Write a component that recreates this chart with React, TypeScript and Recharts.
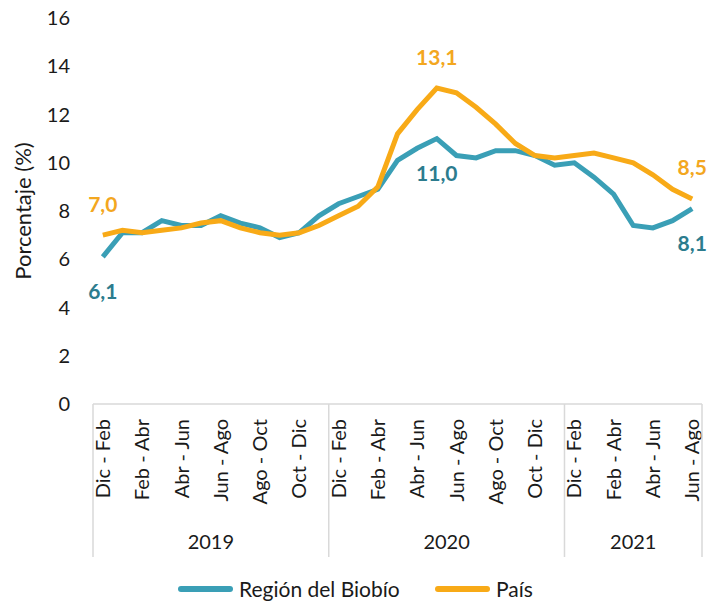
import React from 'react';
import { LineChart, Line, XAxis, YAxis } from 'recharts';

const periods = [
  'Dic - Feb', 'Ene - Mar', 'Feb - Abr', 'Mar - May', 'Abr - Jun', 'May - Jul',
  'Jun - Ago', 'Jul - Sep', 'Ago - Oct', 'Sep - Nov', 'Oct - Dic', 'Nov - Ene',
  'Dic - Feb', 'Ene - Mar', 'Feb - Abr', 'Mar - May', 'Abr - Jun', 'May - Jul',
  'Jun - Ago', 'Jul - Sep', 'Ago - Oct', 'Sep - Nov', 'Oct - Dic', 'Nov - Ene',
  'Dic - Feb', 'Ene - Mar', 'Feb - Abr', 'Mar - May', 'Abr - Jun', 'May - Jul',
  'Jun - Ago',
];

const years = ['2019', '2020', '2021'];
const yearSizes = [12, 12, 7];

const biobio = [
  6.1, 7.1, 7.1, 7.6, 7.4, 7.4, 7.8, 7.5, 7.3, 6.9, 7.1, 7.8,
  8.3, 8.6, 8.9, 10.1, 10.6, 11.0, 10.3, 10.2, 10.5, 10.5, 10.3, 9.9,
  10.0, 9.4, 8.7, 7.4, 7.3, 7.6, 8.1,
];

const pais = [
  7.0, 7.2, 7.1, 7.2, 7.3, 7.5, 7.6, 7.3, 7.1, 7.0, 7.1, 7.4,
  7.8, 8.2, 9.0, 11.2, 12.2, 13.1, 12.9, 12.3, 11.6, 10.8, 10.3, 10.2,
  10.3, 10.4, 10.2, 10.0, 9.5, 8.9, 8.5,
];

const labelledPoints = [0, 17, 30];
const yTicks = [0, 2, 4, 6, 8, 10, 12, 14, 16];

const data = periods.map((p, i) => ({ period: p, biobio: biobio[i], pais: pais[i] }));

const W = 716;
const H = 604;
const PLOT_LEFT = 93;
const PLOT_RIGHT = 702;
const PLOT_TOP = 18;
const PLOT_BOTTOM = 404;
const BW = (PLOT_RIGHT - PLOT_LEFT) / periods.length;

const FONT = 'Lato, "Open Sans", sans-serif';
const BLUE = '#3a9fb6';
const BLUE_TEXT = '#2c7c8e';
const ORANGE = '#f8aa17';
const ORANGE_TEXT = '#f3a71f';
const GRID = '#d9d9d9';
const TEXT = '#1a1a1a';

// index where each year group starts
const groupStarts: number[] = [];
yearSizes.reduce((acc, n) => {
  groupStarts.push(acc);
  return acc + n;
}, 0);

const fmt = (v: number) => v.toFixed(1).replace('.', ',');

const XTick = (props: any) => {
  const { x, y, index } = props;
  const out: React.ReactNode[] = [];
  if (index % 2 === 0) {
    out.push(
      <text
        key="t"
        x={x}
        y={y + 15}
        dy="0.36em"
        transform={`rotate(-90 ${x} ${y + 15})`}
        textAnchor="end"
        fontFamily={FONT}
        fontSize={20}
        fill={TEXT}
      >
        {periods[index]}
      </text>
    );
  }
  const g = groupStarts.indexOf(index);
  if (g >= 0) {
    const left = x - BW / 2;
    out.push(<line key="s" x1={left} x2={left} y1={y} y2={557} stroke={GRID} strokeWidth={1.5} />);
    const mid = left + (yearSizes[g] * BW) / 2;
    out.push(
      <text key="y" x={mid} y={542} dy="0.36em" textAnchor="middle" fontFamily={FONT} fontSize={20} fill={TEXT}>
        {years[g]}
      </text>
    );
  }
  if (index === periods.length - 1) {
    const right = x + BW / 2;
    out.push(<line key="e" x1={right} x2={right} y1={y} y2={557} stroke={GRID} strokeWidth={1.5} />);
  }
  return <g>{out}</g>;
};

const makeLabel = (color: string, above: boolean) => (props: any) => {
  const { x, y, index, value } = props;
  if (!labelledPoints.includes(index)) return <g />;
  return (
    <text
      x={x}
      y={above ? y - 31 : y + 35}
      dy="0.36em"
      textAnchor="middle"
      fontFamily={FONT}
      fontWeight={700}
      fontSize={21}
      fill={color}
    >
      {fmt(value)}
    </text>
  );
};

const LegendItem = ({ color, label, left }: { color: string; label: string; left: number }) => (
  <div style={{ position: 'absolute', left, top: 577, display: 'flex', alignItems: 'center', height: 24 }}>
    <div style={{ width: 55, height: 6, borderRadius: 3, background: color, marginRight: 6 }} />
    <span style={{ fontFamily: FONT, fontSize: 21, lineHeight: '24px', color: TEXT, whiteSpace: 'nowrap' }}>
      {label}
    </span>
  </div>
);

export default function App() {
  return (
    <div style={{ position: 'absolute', left: 0, top: 0, width: W, height: H, background: '#fff', overflow: 'hidden' }}>
      <LineChart
        width={W}
        height={H}
        data={data}
        margin={{ top: PLOT_TOP, right: W - PLOT_RIGHT, bottom: 0, left: 0 }}
      >
        <XAxis
          dataKey="period"
          interval={0}
          height={H - PLOT_BOTTOM}
          padding={{ left: BW / 2, right: BW / 2 }}
          tickLine={false}
          tickSize={0}
          tickMargin={0}
          axisLine={{ stroke: GRID, strokeWidth: 1.5 }}
          tick={<XTick />}
        />
        <YAxis
          width={PLOT_LEFT}
          domain={[0, 16]}
          ticks={yTicks}
          axisLine={false}
          tickLine={false}
          tickSize={0}
          tickMargin={23}
          tick={{ fontFamily: FONT, fontSize: 20, fill: TEXT }}
          label={{
            content: () => (
              <text
                x={23}
                y={211}
                dy="0.36em"
                transform="rotate(-90 23 211)"
                textAnchor="middle"
                fontFamily={FONT}
                fontSize={22}
                fill={TEXT}
              >
                Porcentaje (%)
              </text>
            ),
          }}
        />
        <Line
          dataKey="biobio"
          stroke={BLUE}
          strokeWidth={5}
          dot={false}
          activeDot={false}
          isAnimationActive={false}
          label={makeLabel(BLUE_TEXT, false)}
        />
        <Line
          dataKey="pais"
          stroke={ORANGE}
          strokeWidth={5}
          dot={false}
          activeDot={false}
          isAnimationActive={false}
          label={makeLabel(ORANGE_TEXT, true)}
        />
      </LineChart>
      <LegendItem color={BLUE} label="Región del Biobío" left={178} />
      <LegendItem color={ORANGE} label="País" left={435} />
    </div>
  );
}
